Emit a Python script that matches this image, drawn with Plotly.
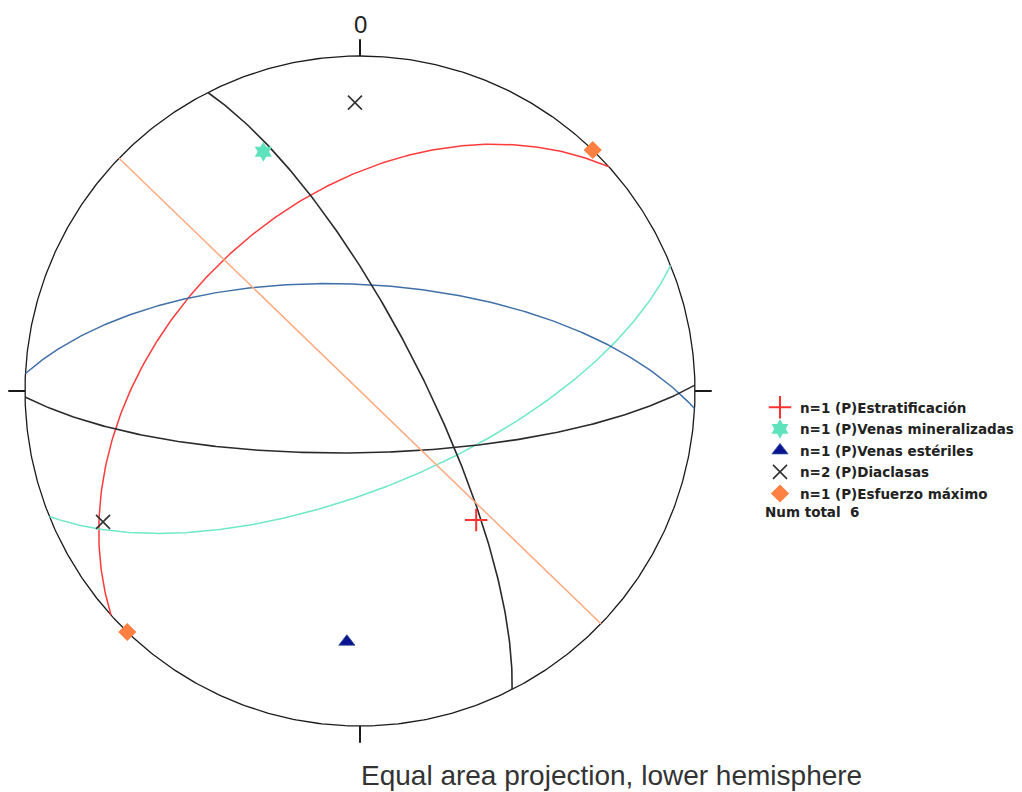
import numpy as np
import plotly.graph_objects as go

# Planes measured as dip direction / dip (degrees)
estrat_planes = [(318, 43)]
venas_min_planes = [(158, 66)]
venas_est_planes = [(3, 64)]
diaclasas_planes = [(179, 75), (63, 75)]

# Maximum stress axis as trend / plunge (degrees)
esfuerzo_lines = [(44, 0)]

legend_names = [
    "n=1 (P)Estratificación",
    "n=1 (P)Venas mineralizadas",
    "n=1 (P)Venas estériles",
    "n=2 (P)Diaclasas",
    "n=1 (P)Esfuerzo máximo",
]
num_total = 6


def project(trend, plunge):
    """Lambert equal-area projection, lower hemisphere, unit primitive."""
    t = np.radians(np.asarray(trend, dtype=float))
    p = np.radians(np.asarray(plunge, dtype=float))
    r = np.sqrt(2.0) * np.sin((np.pi / 2 - p) / 2)
    return r * np.sin(t), r * np.cos(t)


def great_circle(dip_dir, dip, n=241):
    s = np.radians(dip_dir - 90)
    dd = np.radians(dip_dir)
    d = np.radians(dip)
    a = np.radians(np.linspace(0, 180, n))
    sv = np.array([np.sin(s), np.cos(s), 0.0])
    dv = np.array([np.cos(d) * np.sin(dd), np.cos(d) * np.cos(dd), np.sin(d)])
    v = np.outer(np.cos(a), sv) + np.outer(np.sin(a), dv)
    plunge = np.degrees(np.arcsin(np.clip(v[:, 2], -1, 1)))
    trend = np.degrees(np.arctan2(v[:, 0], v[:, 1]))
    return project(trend, plunge)


def pole(dip_dir, dip):
    return (dip_dir + 180) % 360, 90 - dip


def line_points(trend, plunge):
    pts = [project(trend, plunge)]
    if plunge == 0:
        pts.append(project(trend + 180, 0))
    return pts


fig = go.Figure()

# primitive circle
th = np.linspace(0, 2 * np.pi, 721)
fig.add_trace(go.Scatter(x=np.sin(th), y=np.cos(th), mode="lines",
                         line=dict(color="#1a1a1a", width=1.3),
                         hoverinfo="skip", showlegend=False))

sets = [
    (estrat_planes, "#ff3a3a", 1.5),
    (venas_min_planes, "#6ee8c6", 1.5),
    (venas_est_planes, "#3f70a8", 1.5),
    (diaclasas_planes, "#2a2a2a", 1.6),
]
for planes, col, w in sets:
    for dd, dp in planes:
        gx, gy = great_circle(dd, dp)
        fig.add_trace(go.Scatter(x=gx, y=gy, mode="lines",
                                 line=dict(color=col, width=w),
                                 hoverinfo="skip", showlegend=False))

# plane normal to the maximum stress axis
for tr, pl in esfuerzo_lines:
    gx, gy = great_circle(tr, 90 - pl)
    fig.add_trace(go.Scatter(x=gx, y=gy, mode="lines",
                             line=dict(color="#ffab80", width=1.5),
                             hoverinfo="skip", showlegend=False))

# poles
marker_styles = [
    dict(symbol="cross-thin", size=16, color="#ff3030", line=dict(color="#ff3030", width=2)),
    dict(symbol="hexagram", size=15, color="#5fe3bd", line=dict(width=0)),
    dict(symbol="triangle-up", size=14, color="#0a1490", line=dict(color="#2a4a9a", width=0.8)),
    dict(symbol="x-thin", size=14, color="#333333", line=dict(color="#333333", width=1.6)),
    dict(symbol="diamond", size=14, color="#ff8040", line=dict(width=0)),
]
plane_groups = [estrat_planes, venas_min_planes, venas_est_planes, diaclasas_planes]
for i, planes in enumerate(plane_groups):
    px, py = [], []
    for dd, dp in planes:
        x, y = project(*pole(dd, dp))
        px.append(float(x))
        py.append(float(y))
    fig.add_trace(go.Scatter(x=px, y=py, mode="markers", marker=marker_styles[i],
                             name=legend_names[i], legendgroup=str(i)))

ex, ey = [], []
for tr, pl in esfuerzo_lines:
    for x, y in line_points(tr, pl):
        ex.append(float(x))
        ey.append(float(y))
fig.add_trace(go.Scatter(x=ex, y=ey, mode="markers", marker=marker_styles[4],
                         name=legend_names[4], legendgroup="4"))

# N/E/S/W ticks outside the primitive
shapes = []
for az in (0, 90, 180, 270):
    a = np.radians(az)
    shapes.append(dict(type="line", xref="x", yref="y",
                       x0=np.sin(a), y0=np.cos(a),
                       x1=1.05 * np.sin(a), y1=1.05 * np.cos(a),
                       line=dict(color="#1a1a1a", width=2)))

W, H = 1022, 792
CX, CY, RP = 360, 391, 335
LEG_FONT = dict(family="DejaVu Sans", size=13.5, color="#222222", weight="bold")

fig.update_layout(
    width=W, height=H,
    margin=dict(l=0, r=0, t=0, b=0),
    paper_bgcolor="white", plot_bgcolor="white",
    xaxis=dict(range=[-CX / RP, (W - CX) / RP], visible=False, fixedrange=True),
    yaxis=dict(range=[-(H - CY) / RP, CY / RP], visible=False, fixedrange=True),
    shapes=shapes,
    showlegend=True,
    legend=dict(x=760 / W, y=1 - 392 / H, xanchor="left", yanchor="top",
                font=LEG_FONT, tracegroupgap=1, itemsizing="trace",
                bgcolor="rgba(0,0,0,0)"),
    annotations=[
        dict(x=0, y=(CY - 24) / RP, xref="x", yref="y", text="0", showarrow=False,
             font=dict(family="Liberation Sans", size=24, color="#222222")),
        dict(x=763 / W, y=1 - 512 / H, xref="paper", yref="paper",
             text=f"Num total  {num_total}", showarrow=False, xanchor="left",
             yanchor="middle", font=LEG_FONT),
        dict(x=611 / W, y=1 - 775 / H, xref="paper", yref="paper",
             text="Equal area projection, lower hemisphere", showarrow=False,
             xanchor="center", yanchor="middle",
             font=dict(family="Liberation Sans", size=28, color="#333333")),
    ],
)

fig.write_html("out.html")
